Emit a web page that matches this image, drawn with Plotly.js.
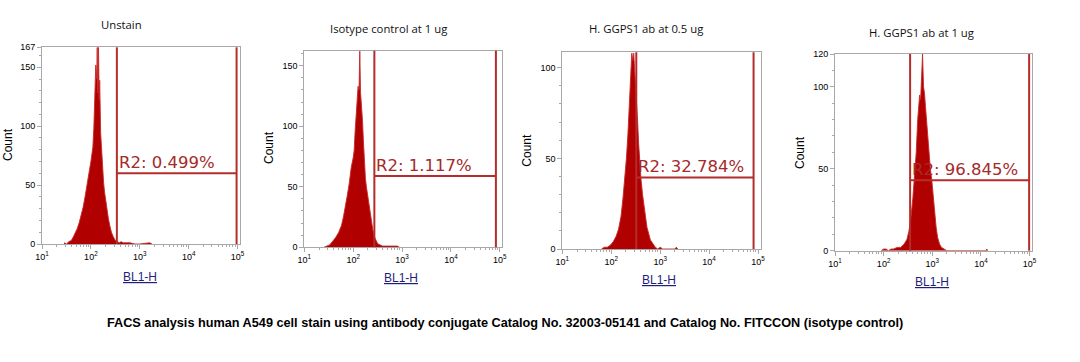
<!DOCTYPE html>
<html><head><meta charset="utf-8">
<script src="https://cdn.plot.ly/plotly-3.0.1.min.js"></script>
<style>html,body{margin:0;padding:0;background:#fff}#chart{width:1080px;height:362px}</style>
</head><body><div id="chart"></div>
<script>
// ---- data (log10 of BL1-H intensity, cell count) ----
const panelTitles = ["Unstain", "Isotype control at 1 ug", "H. GGPS1 ab at 0.5 ug", "H. GGPS1 ab at 1 ug"];
const gateLabels = ["R2: 0.499%", "R2: 1.117%", "R2: 32.784%", "R2: 96.845%"];
const xTickVals = [10, 100, 1000, 10000, 100000];
const xTickText = ["10<sup>1</sup>", "10<sup>2</sup>", "10<sup>3</sup>", "10<sup>4</sup>", "10<sup>5</sup>"];
const yTickVals = [[0, 50, 100, 150, 167], [0, 50, 100, 150], [0, 50, 100], [0, 50, 100, 120]];
const yMax = [167, 162.4, 108.5, 120];

const unstainLog = [1.45, 1.50, 1.55, 1.60, 1.64, 1.68, 1.72, 1.76, 1.80, 1.84, 1.88, 1.92, 1.96, 1.98, 2.00, 2.02, 2.04, 2.06, 2.08, 2.10, 2.12, 2.13, 2.14, 2.155, 2.17, 2.18, 2.20, 2.22, 2.24, 2.26, 2.28, 2.30, 2.33, 2.36, 2.39, 2.42, 2.46, 2.50, 2.54, 2.58, 2.62, 2.66, 2.72, 2.80, 2.90, 3.00, 3.20, 3.25];
const unstainCount = [1, 0, 2, 3, 6, 9, 13, 18, 24, 31, 40, 49, 58, 63, 70, 76, 82, 98, 124, 152, 140, 167, 128, 167, 122, 139, 94, 76, 62, 52, 44, 37, 29, 21, 15, 10, 6, 3, 2, 1, 2, 1, 1, 1, 0, 0, 1, 0];

const isotypeLog = [1.40, 1.46, 1.52, 1.58, 1.64, 1.70, 1.76, 1.80, 1.84, 1.88, 1.92, 1.96, 2.00, 2.02, 2.04, 2.06, 2.08, 2.10, 2.12, 2.135, 2.15, 2.17, 2.19, 2.21, 2.23, 2.25, 2.27, 2.30, 2.33, 2.36, 2.40, 2.43, 2.47, 2.50, 2.55, 2.60, 2.70, 2.80, 2.90, 2.95];
const isotypeCount = [0, 1, 2, 5, 8, 12, 18, 25, 33, 43, 53, 66, 74, 80, 96, 106, 121, 133, 130, 162, 128, 119, 105, 87, 67, 57, 50, 41, 33, 25, 15, 9, 5, 3, 2, 1, 1, 1, 1, 0];

const ab05Log = [1.80, 1.86, 1.92, 1.98, 2.04, 2.10, 2.15, 2.20, 2.24, 2.28, 2.31, 2.34, 2.36, 2.38, 2.40, 2.42, 2.44, 2.46, 2.48, 2.50, 2.52, 2.54, 2.56, 2.58, 2.61, 2.64, 2.67, 2.70, 2.73, 2.77, 2.80, 2.85, 2.90, 2.95, 3.00, 3.05, 3.30, 3.33, 3.36];
const ab05Count = [0, 1, 1, 2, 4, 7, 11, 18, 28, 40, 50, 63, 75, 88, 100, 108, 104, 108, 98, 90, 80, 70, 58, 48, 38, 30, 23, 17, 12, 8, 5, 3, 1, 0, 1, 0, 0, 1, 0];

const ab1Log = [1.95, 2.00, 2.05, 2.10, 2.15, 2.20, 2.28, 2.35, 2.42, 2.48, 2.52, 2.56, 2.60, 2.64, 2.67, 2.70, 2.72, 2.74, 2.76, 2.78, 2.80, 2.82, 2.84, 2.86, 2.88, 2.90, 2.93, 2.96, 2.99, 3.02, 3.05, 3.08, 3.11, 3.15, 3.19, 3.24, 3.30, 4.10, 4.12, 4.14];
const ab1Count = [0, 1, 1, 0, 1, 1, 2, 2, 4, 7, 12, 20, 32, 48, 60, 80, 86, 95, 92, 105, 120, 100, 96, 88, 80, 72, 60, 50, 43, 32, 22, 14, 8, 4, 2, 1, 0, 0, 1, 0];

const gateLeft = [340, 271, 325, 350];
const gateRight = [95500, 83000, 81000, 98000];
const gateLevel = [60, 59, 39.5, 43];

const seriesLog = [unstainLog, isotypeLog, ab05Log, ab1Log];
const seriesCount = [unstainCount, isotypeCount, ab05Count, ab1Count];

// ---- layout geometry (pixels) ----
const W = 1080, H = 362;
const boxes = [
  {l: 42, r: 240, t: 47.3, b: 244},
  {l: 304.3, r: 502.3, t: 50.7, b: 247.3},
  {l: 562.3, r: 760.5, t: 52.3, b: 249},
  {l: 835, r: 1032, t: 54, b: 250.7}
];
const titlePos = [[121.7, 25], [388, 28], [645.7, 28.7], [921.7, 32]];
const countPos = [[8, 145], [269, 148], [526.7, 150], [800, 153]];
const xlabPos = [[140, 277], [400.7, 278], [659, 280], [931.7, 282]];
const px = x => x / W, py = y => 1 - y / H;

const minorX = [];
[10, 100, 1000, 10000].forEach(d => { for (let k = 2; k <= 9; k++) minorX.push(d * k); });

const RED = '#b00000', GATE = '#b42c2c', AX = '#a8a8a8';
const traces = [], shapes = [], annotations = [];
const layout = {
  width: W, height: H, margin: {l: 0, r: 0, t: 0, b: 0},
  paper_bgcolor: '#fff', plot_bgcolor: '#fff', showlegend: false,
  font: {family: 'Liberation Sans, Arial, sans-serif', color: '#000'}
};

for (let i = 0; i < 4; i++) {
  const n = i === 0 ? '' : String(i + 1);
  const xa = 'x' + n, ya = 'y' + n;
  const bx = boxes[i];
  traces.push({
    type: 'scatter', mode: 'lines', xaxis: xa, yaxis: ya,
    x: seriesLog[i].map(v => Math.pow(10, v)), y: seriesCount[i],
    fill: 'tozeroy', fillcolor: RED,
    line: {color: 'rgba(200,40,40,0.9)', width: 1}, hoverinfo: 'x+y'
  });
  const minorY = [];
  for (let v = 10; v < yMax[i]; v += 10) if (v % 50 !== 0) minorY.push(v);
  layout['xaxis' + n] = {
    type: 'log', range: [1, 5.05], domain: [px(bx.l), px(bx.r)], anchor: ya,
    showline: true, mirror: true, linecolor: AX, linewidth: 1,
    showgrid: false, zeroline: false,
    ticks: 'outside', ticklen: 4, tickcolor: AX, tickmode: 'array',
    tickvals: xTickVals, ticktext: xTickText,
    tickfont: {size: 9, family: 'Liberation Sans, Arial, sans-serif', color: '#000'},
    minor: {tickmode: 'array', tickvals: minorX, ticks: 'outside', ticklen: 2, tickcolor: AX, showgrid: false},
    fixedrange: true
  };
  layout['yaxis' + n] = {
    range: [0, yMax[i]], domain: [py(bx.b), py(bx.t)], anchor: xa,
    showline: true, mirror: true, linecolor: AX, linewidth: 1,
    showgrid: false, zeroline: false,
    ticks: 'outside', ticklen: 4, tickcolor: AX, tickmode: 'array',
    tickvals: yTickVals[i],
    tickfont: {size: 9, family: 'Liberation Sans, Arial, sans-serif', color: '#000'},
    minor: {tickmode: 'array', tickvals: minorY, ticks: 'outside', ticklen: 2, tickcolor: AX, showgrid: false},
    fixedrange: true
  };
  // gate R2
  shapes.push({type: 'line', xref: xa, yref: ya + ' domain', x0: gateLeft[i], x1: gateLeft[i], y0: 0, y1: 1, line: {color: GATE, width: 2}});
  shapes.push({type: 'line', xref: xa, yref: ya + ' domain', x0: gateRight[i], x1: gateRight[i], y0: 0, y1: 1, line: {color: GATE, width: 2}});
  shapes.push({type: 'line', xref: xa, yref: ya, x0: gateLeft[i], x1: gateRight[i], y0: gateLevel[i], y1: gateLevel[i], line: {color: GATE, width: 2}});
  annotations.push({xref: xa, yref: ya, x: Math.log10(gateLeft[i]), y: gateLevel[i], xanchor: 'left', yanchor: 'bottom',
    xshift: 0, yshift: -1, showarrow: false, text: gateLabels[i],
    font: {family: 'DejaVu Sans, Verdana, sans-serif', size: 16.5, color: '#a52a2a'}});
  annotations.push({xref: 'paper', yref: 'paper', x: px(titlePos[i][0]), y: py(titlePos[i][1]), xanchor: 'center', yanchor: 'middle',
    showarrow: false, text: panelTitles[i], font: {family: 'Open Sans, sans-serif', size: 11.3, color: '#111'}});
  annotations.push({xref: 'paper', yref: 'paper', x: px(countPos[i][0]), y: py(countPos[i][1]), xanchor: 'center', yanchor: 'middle',
    showarrow: false, textangle: -90, text: 'Count', font: {family: 'Liberation Sans, Arial, sans-serif', size: 12, color: '#000'}});
  annotations.push({xref: 'paper', yref: 'paper', x: px(xlabPos[i][0]), y: py(xlabPos[i][1]), xanchor: 'center', yanchor: 'middle',
    showarrow: false, text: '<u>BL1-H</u>', font: {family: 'Liberation Sans, Arial, sans-serif', size: 12, color: '#1f1f7a'}});
}
annotations.push({xref: 'paper', yref: 'paper', x: px(505), y: py(323), xanchor: 'center', yanchor: 'middle', showarrow: false,
  text: '<b>FACS analysis human A549 cell stain using antibody conjugate Catalog No. 32003-05141 and Catalog No. FITCCON (isotype control)</b>',
  font: {family: 'Liberation Sans, Arial, sans-serif', size: 12.7, color: '#000'}});

layout.shapes = shapes;
layout.annotations = annotations;
Plotly.newPlot('chart', traces, layout, {displayModeBar: false, staticPlot: true});
</script>
</body></html>
